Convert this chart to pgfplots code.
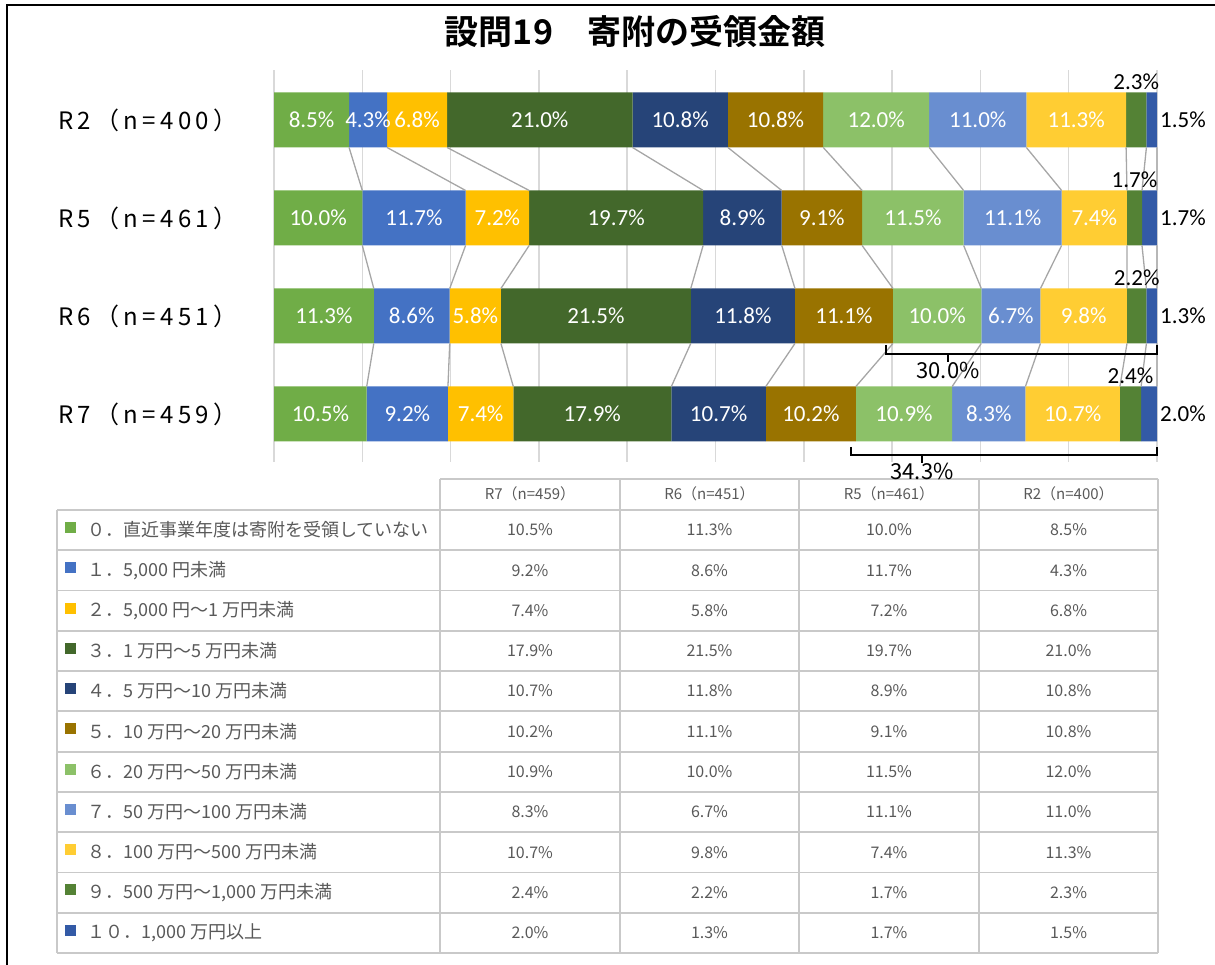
\documentclass[border=0pt]{standalone}
\usepackage{fontspec}
\setmainfont{Carlito}
\newfontfamily\jp{Noto Sans CJK JP}[BoldFont={Noto Sans CJK JP Bold}]
\newfontfamily\jpw{Noto Sans CJK JP}[LetterSpace=18]
\usepackage{pgfplots}
\usepackage{pgfplotstable}
\pgfplotsset{compat=1.18}

\definecolor{c0}{HTML}{70AD47}
\definecolor{c1}{HTML}{4472C4}
\definecolor{c2}{HTML}{FFC000}
\definecolor{c3}{HTML}{43682B}
\definecolor{c4}{HTML}{264478}
\definecolor{c5}{HTML}{997300}
\definecolor{c6}{HTML}{8CC168}
\definecolor{c7}{HTML}{698ED0}
\definecolor{c8}{HTML}{FFCD33}
\definecolor{c9}{HTML}{548235}
\definecolor{c10}{HTML}{335AA6}
\definecolor{gridc}{HTML}{D9D9D9}
\definecolor{linec}{HTML}{A6A6A6}
\definecolor{tline}{HTML}{C9C9C9}
\definecolor{tgray}{HTML}{595959}

% y: 3=R2, 2=R5, 1=R6, 0=R7
\pgfplotstableread{
y s0 s1 s2 s3 s4 s5 s6 s7 s8 s9 s10
3 8.5 4.3 6.8 21.0 10.8 10.8 12.0 11.0 11.3 2.3 1.5
2 10.0 11.7 7.2 19.7 8.9 9.1 11.5 11.1 7.4 1.7 1.7
1 11.3 8.6 5.8 21.5 11.8 11.1 10.0 6.7 9.8 2.2 1.3
0 10.5 9.2 7.4 17.9 10.7 10.2 10.9 8.3 10.7 2.4 2.0
}\data

% label positions (segment midpoints) and values
\pgfplotstableread{
x y v
4.25 3 8.5
10.65 3 4.3
16.2 3 6.8
30.1 3 21.0
46.0 3 10.8
56.8 3 10.8
68.2 3 12.0
79.7 3 11.0
90.85 3 11.3
5.0 2 10.0
15.85 2 11.7
25.3 2 7.2
38.75 2 19.7
53.05 2 8.9
62.05 2 9.1
72.35 2 11.5
83.65 2 11.1
92.9 2 7.4
5.65 1 11.3
15.6 1 8.6
22.8 1 5.8
36.45 1 21.5
53.1 1 11.8
64.55 1 11.1
75.1 1 10.0
83.45 1 6.7
91.7 1 9.8
5.25 0 10.5
15.1 0 9.2
23.4 0 7.4
36.05 0 17.9
50.35 0 10.7
60.8 0 10.2
71.35 0 10.9
80.95 0 8.3
90.45 0 10.7
}\wlab

\pgfplotstableread{
x y v
97.65 3 2.3
97.45 2 1.7
97.7 1 2.2
97.0 0 2.4
}\nlab

\pgfplotstableread{
x y v
100 3 1.5
100 2 1.7
100 1 1.3
100 0 2.0
}\elab

\begin{document}
\begin{tikzpicture}
\useasboundingbox (0,0) rectangle (1215pt,965pt);

\begin{scope}[x=1pt,y=-1pt,yshift=965pt]
  \draw[line width=2pt] (7,965) -- (7,5) -- (1215,5);
  \node[font=\jp\bfseries\fontsize{34}{34}\selectfont] at (635,32) {設問19　寄附の受領金額};
\end{scope}

% stacked bars
\begin{axis}[
  at={(274pt,503pt)}, anchor=south west,
  scale only axis, width=883pt, height=392pt,
  xmin=0, xmax=100, ymin=-0.49, ymax=3.51,
  xbar stacked, bar width=55pt,
  axis line style={draw=none},
  xtick={0,10,...,100}, xticklabels={},
  xmajorgrids, grid style={color=gridc, line width=1.5pt},
  ytick={0,1,2,3},
  yticklabels={R7（n=459）,R6（n=451）,R5（n=461）,R2（n=400）},
  major tick length=0pt,
  yticklabel style={font=\jpw\fontsize{24}{24}\selectfont, text=black, xshift=-33pt},
]
\pgfplotsinvokeforeach{0,...,10}{
  \addplot[fill=c#1, draw=none] table[x=s#1, y=y]{\data};
}
\end{axis}

% overlay: series lines and data labels
\begin{axis}[
  at={(274pt,503pt)}, anchor=south west,
  scale only axis, width=883pt, height=392pt,
  xmin=0, xmax=100, ymin=-0.49, ymax=3.51,
  hide axis, clip=false,
  /pgf/number format/assume math mode=true,
]
\addplot[color=linec, line width=1.3pt, unbounded coords=jump] coordinates {
 (8.5,2.7194) (10,2.2806) (nan,nan)
 (12.8,2.7194) (21.7,2.2806) (nan,nan)
 (19.6,2.7194) (28.9,2.2806) (nan,nan)
 (40.6,2.7194) (48.6,2.2806) (nan,nan)
 (51.4,2.7194) (57.5,2.2806) (nan,nan)
 (62.2,2.7194) (66.6,2.2806) (nan,nan)
 (74.2,2.7194) (78.1,2.2806) (nan,nan)
 (85.2,2.7194) (89.2,2.2806) (nan,nan)
 (96.5,2.7194) (96.6,2.2806) (nan,nan)
 (98.8,2.7194) (98.3,2.2806) (nan,nan)
 (100,2.7194) (100,2.2806)
};
\addplot[color=linec, line width=1.3pt, unbounded coords=jump] coordinates {
 (10,1.7194) (11.3,1.2806) (nan,nan)
 (21.7,1.7194) (19.9,1.2806) (nan,nan)
 (28.9,1.7194) (25.7,1.2806) (nan,nan)
 (48.6,1.7194) (47.2,1.2806) (nan,nan)
 (57.5,1.7194) (59.0,1.2806) (nan,nan)
 (66.6,1.7194) (70.1,1.2806) (nan,nan)
 (78.1,1.7194) (80.1,1.2806) (nan,nan)
 (89.2,1.7194) (86.8,1.2806) (nan,nan)
 (96.6,1.7194) (96.6,1.2806) (nan,nan)
 (98.3,1.7194) (98.8,1.2806) (nan,nan)
 (100,1.7194) (100,1.2806)
};
\addplot[color=linec, line width=1.3pt, unbounded coords=jump] coordinates {
 (11.3,0.7194) (10.5,0.2806) (nan,nan)
 (19.9,0.7194) (19.7,0.2806) (nan,nan)
 (25.7,0.7194) (27.1,0.2806) (nan,nan)
 (47.2,0.7194) (45.0,0.2806) (nan,nan)
 (59.0,0.7194) (55.7,0.2806) (nan,nan)
 (70.1,0.7194) (65.9,0.2806) (nan,nan)
 (80.1,0.7194) (76.8,0.2806) (nan,nan)
 (86.8,0.7194) (85.1,0.2806) (nan,nan)
 (96.6,0.7194) (95.8,0.2806) (nan,nan)
 (98.8,0.7194) (98.2,0.2806) (nan,nan)
 (100,0.7194) (100,0.2806)
};
\addplot[draw=none, point meta=explicit,
  nodes near coords={\pgfmathprintnumber[fixed,fixed zerofill,precision=1]{\pgfplotspointmeta}\%},
  every node near coord/.append style={font=\fontsize{23}{23}\selectfont, text=white, inner sep=0pt, anchor=center}]
  table[x=x, y=y, meta=v]{\wlab};
\addplot[draw=none, point meta=explicit,
  nodes near coords={\pgfmathprintnumber[fixed,fixed zerofill,precision=1]{\pgfplotspointmeta}\%},
  every node near coord/.append style={font=\fontsize{23}{23}\selectfont, text=black, inner sep=0pt, anchor=base, yshift=30.5pt}]
  table[x=x, y=y, meta=v]{\nlab};
\addplot[draw=none, point meta=explicit,
  nodes near coords={\pgfmathprintnumber[fixed,fixed zerofill,precision=1]{\pgfplotspointmeta}\%},
  every node near coord/.append style={font=\fontsize{23}{23}\selectfont, text=black, inner sep=0pt, anchor=west, xshift=3pt}]
  table[x=x, y=y, meta=v]{\elab};
\end{axis}

\begin{scope}[x=1pt,y=-1pt,yshift=965pt]
  % table
  \draw[tline, line width=1.8pt] (440,479) -- (1158,479);
  \foreach \k in {0,...,11} \draw[tline, line width=1.8pt] (57,510+\k*40.27) -- (1158,510+\k*40.27);
  \draw[tline, line width=1.8pt] (57,510) -- (57,953);
  \foreach \xx in {440,620,799,979,1158} \draw[tline, line width=1.8pt] (\xx,479) -- (\xx,953);
  \foreach \hd/\cx in {R7（n=459）/530, R6（n=451）/709.5, R5（n=461）/889, R2（n=400）/1068.5}
    \node[font=\jp\fontsize{15}{15}\selectfont, text=tgray, inner sep=0] at (\cx,494) {\hd};
  \foreach \lab/\a/\b/\c/\d/\col [count=\i from 0] in {
    {０．直近事業年度は寄附を受領していない}/10.5/11.3/10.0/8.5/c0,
    {１．5,000 円未満}/9.2/8.6/11.7/4.3/c1,
    {２．5,000 円～1 万円未満}/7.4/5.8/7.2/6.8/c2,
    {３．1 万円～5 万円未満}/17.9/21.5/19.7/21.0/c3,
    {４．5 万円～10 万円未満}/10.7/11.8/8.9/10.8/c4,
    {５．10 万円～20 万円未満}/10.2/11.1/9.1/10.8/c5,
    {６．20 万円～50 万円未満}/10.9/10.0/11.5/12.0/c6,
    {７．50 万円～100 万円未満}/8.3/6.7/11.1/11.0/c7,
    {８．100 万円～500 万円未満}/10.7/9.8/7.4/11.3/c8,
    {９．500 万円～1,000 万円未満}/2.4/2.2/1.7/2.3/c9,
    {１０．1,000 万円以上}/2.0/1.3/1.7/1.5/c10}
  {
    \pgfmathsetmacro\rt{510+\i*40.27}
    \fill[\col] (65,\rt+12) rectangle ++(11,11);
    \node[anchor=west, inner sep=0, text=tgray, font=\jp\fontsize{18}{18}\selectfont] at (87,\rt+20) {\lab};
    \node[inner sep=0, text=tgray, font=\jp\fontsize{16}{16}\selectfont] at (530,\rt+20) {\a\%};
    \node[inner sep=0, text=tgray, font=\jp\fontsize{16}{16}\selectfont] at (709.5,\rt+20) {\b\%};
    \node[inner sep=0, text=tgray, font=\jp\fontsize{16}{16}\selectfont] at (889,\rt+20) {\c\%};
    \node[inner sep=0, text=tgray, font=\jp\fontsize{16}{16}\selectfont] at (1068.5,\rt+20) {\d\%};
  }
  % brackets
  \draw[line width=1.8pt] (886,345) -- (886,354) -- (1157,354) -- (1157,345);
  \draw[line width=1.8pt] (948,354) -- (948,362);
  \node[font=\jp\fontsize{22}{22}\selectfont, inner sep=0] at (948,370) {30.0\%};
  \draw[line width=1.8pt] (851,447) -- (851,455) -- (1157,455) -- (1157,447);
  \draw[line width=1.8pt] (922,455) -- (922,463);
  \node[font=\jp\fontsize{22}{22}\selectfont, inner sep=0] at (922,471) {34.3\%};
\end{scope}
\end{tikzpicture}
\end{document}
